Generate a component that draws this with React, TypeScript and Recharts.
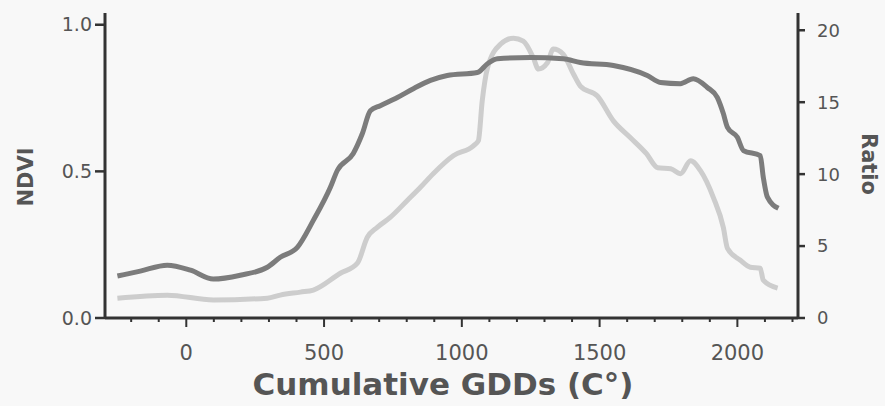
import { LineChart, Line, XAxis, YAxis, Label } from "recharts"

// NDVI curve (dark grey, left axis)
const ndviGdd = [-250, -167, -69, 15, 98, 196, 294, 341, 403, 461, 523, 548, 606, 639, 668, 704, 766, 824, 886, 947, 1056, 1093, 1129, 1249, 1368, 1430, 1550, 1673, 1721, 1793, 1840, 1891, 1927, 1949, 1964, 2000, 2022, 2083, 2094, 2109, 2149]
const ndviValues = [0.143, 0.16, 0.18, 0.163, 0.133, 0.146, 0.173, 0.207, 0.241, 0.333, 0.446, 0.503, 0.561, 0.629, 0.707, 0.724, 0.752, 0.782, 0.81, 0.827, 0.837, 0.867, 0.884, 0.888, 0.884, 0.871, 0.861, 0.827, 0.803, 0.799, 0.816, 0.786, 0.752, 0.697, 0.65, 0.616, 0.571, 0.554, 0.48, 0.412, 0.374]

// Ratio curve (light grey, right axis)
const ratioGdd = [-250, -69, 98, 294, 341, 414, 461, 559, 621, 657, 693, 740, 802, 849, 896, 969, 1042, 1060, 1074, 1093, 1140, 1187, 1223, 1260, 1278, 1310, 1332, 1368, 1405, 1430, 1492, 1550, 1612, 1670, 1711, 1758, 1794, 1830, 1866, 1913, 1949, 1964, 2011, 2047, 2083, 2094, 2146]
const ratioValues = [1.38, 1.59, 1.25, 1.38, 1.59, 1.8, 1.94, 3.11, 3.81, 5.61, 6.3, 6.99, 8.17, 9.07, 10.03, 11.28, 11.97, 12.32, 15.09, 17.37, 19.03, 19.45, 19.24, 18.06, 17.3, 17.72, 18.69, 18.34, 16.96, 16.12, 15.43, 13.7, 12.53, 11.42, 10.45, 10.38, 10.03, 10.93, 10.24, 8.37, 6.3, 4.84, 4.01, 3.53, 3.46, 2.63, 2.08]

const gddTicks = [-200, -100, 0, 100, 200, 300, 400, 500, 600, 700, 800, 900, 1000, 1100, 1200, 1300, 1400, 1500, 1600, 1700, 1800, 1900, 2000, 2100, 2200]
const ndviTicks = [0, 0.5, 1.0]
const ratioTicks = [0, 5, 10, 15, 20]

const ndviData = ndviGdd.map((gdd, i) => ({ gdd, ndvi: ndviValues[i] }))
const ratioData = ratioGdd.map((gdd, i) => ({ gdd, ratio: ratioValues[i] }))

const font = "'DejaVu Sans', sans-serif"
const axisColor = "#333"
const textColor = "#555"

function GddTick({ x, y, payload }: any) {
  const major = payload.value % 500 === 0
  return (
    <g>
      <line x1={x} x2={x} y1={y} y2={y + (major ? 9 : 4)} stroke={axisColor} strokeWidth={2} />
      {major && (
        <text x={x} y={y + 42} textAnchor="middle" fontFamily={font} fontSize={21} fill={textColor}>
          {payload.value}
        </text>
      )}
    </g>
  )
}

export default function App() {
  return (
    <div style={{ position: "absolute", left: 0, top: 0, width: 885, height: 406, background: "#f8f8f8" }}>
      <LineChart width={885} height={406} margin={{ top: 13, right: 0, bottom: 0, left: 0 }}>
        <XAxis
          dataKey="gdd"
          type="number"
          domain={[-295, 2220]}
          ticks={gddTicks}
          interval={0}
          height={88}
          tickSize={0}
          tickMargin={0}
          tickLine={false}
          tick={<GddTick />}
          axisLine={{ stroke: axisColor, strokeWidth: 3 }}
        >
          <Label
            content={() => (
              <text x={443} y={395} textAnchor="middle" fontFamily={font} fontWeight="bold" fontSize={31} fill={textColor}>
                Cumulative GDDs (C°)
              </text>
            )}
          />
        </XAxis>
        <YAxis
          yAxisId="ndvi"
          domain={[0, 1.04]}
          ticks={ndviTicks}
          width={105}
          tickSize={10}
          tickMargin={3}
          tickFormatter={(v: number) => v.toFixed(1)}
          tick={{ fontFamily: font, fontSize: 19, fill: textColor }}
          tickLine={{ stroke: axisColor, strokeWidth: 2.5 }}
          axisLine={{ stroke: axisColor, strokeWidth: 3 }}
        >
          <Label
            content={() => (
              <text x={25} y={177} transform="rotate(-90, 25, 177)" textAnchor="middle" dy="0.36em" fontFamily={font} fontWeight="bold" fontSize={21} fill={textColor}>
                NDVI
              </text>
            )}
          />
        </YAxis>
        <YAxis
          yAxisId="ratio"
          orientation="right"
          domain={[0, 21.2]}
          ticks={ratioTicks}
          width={87}
          tickSize={7}
          tickMargin={12}
          tick={{ fontFamily: font, fontSize: 18, fill: textColor, textAnchor: "start" }}
          tickLine={{ stroke: axisColor, strokeWidth: 2.5 }}
          axisLine={{ stroke: axisColor, strokeWidth: 3 }}
        >
          <Label
            content={() => (
              <text x={870} y={164} transform="rotate(90, 870, 164)" textAnchor="middle" dy="0.36em" fontFamily={font} fontWeight="bold" fontSize={21} fill={textColor}>
                Ratio
              </text>
            )}
          />
        </YAxis>
        <Line
          yAxisId="ratio"
          data={ratioData}
          dataKey="ratio"
          type="monotone"
          stroke="#cdcdcd"
          strokeWidth={5}
          dot={false}
          isAnimationActive={false}
        />
        <Line
          yAxisId="ndvi"
          data={ndviData}
          dataKey="ndvi"
          type="monotone"
          stroke="#7c7c7c"
          strokeWidth={5}
          dot={false}
          isAnimationActive={false}
        />
      </LineChart>
    </div>
  )
}
